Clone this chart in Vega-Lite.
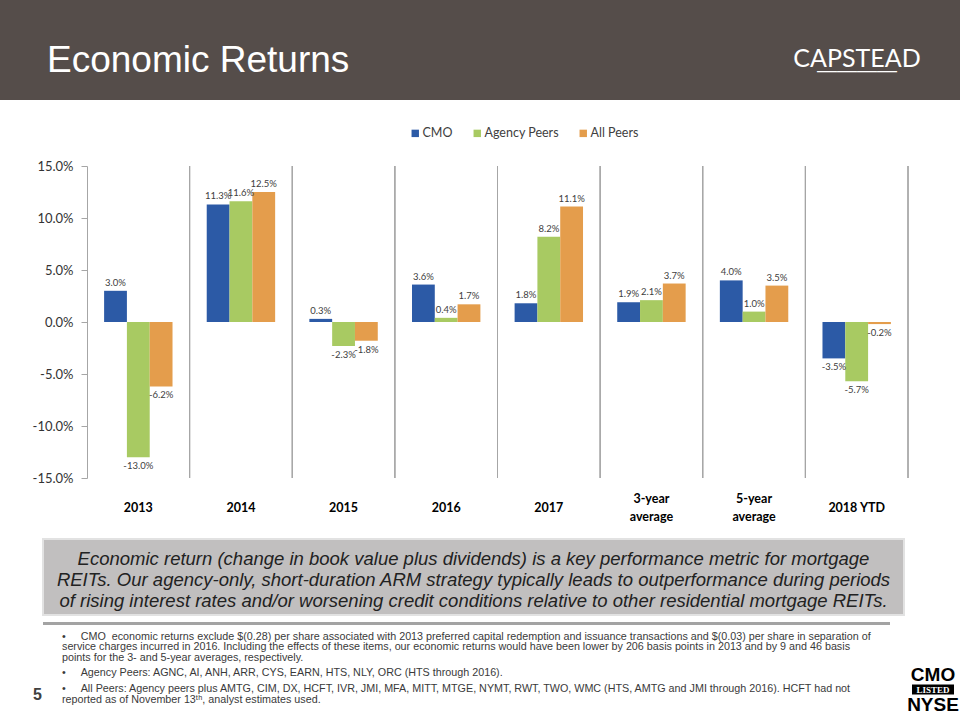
{
  "$schema": "https://vega.github.io/schema/vega-lite/v6.json",
  "padding": 0,
  "background": "white",
  "spacing": 27,
  "align": "none",
  "resolve": {"scale": {"color": "independent"}, "legend": {"color": "independent"}},
  "config": {
    "view": {"stroke": null},
    "locale": {"number": {"decimal": ".", "thousands": ",", "grouping": [3], "currency": ["$", ""], "minus": "-"}},
    "title": {"font": "Liberation Sans"}
  },
  "vconcat": [
    {
      "spacing": 0,
      "hconcat": [
        {
          "width": 700, "height": 100,
          "data": {"values": [{}]},
          "mark": {"type": "rect", "color": "#554D4A"},
          "encoding": {},
          "title": {"text": "Economic Returns", "anchor": "start", "frame": "group", "orient": "top", "offset": -80, "dx": 47, "fontSize": 37, "font": "Liberation Sans", "fontWeight": "normal", "color": "#FFFFFF", "baseline": "top"}
        },
        {
          "width": 260, "height": 100,
          "data": {"values": [{}]},
          "mark": {"type": "rect", "color": "#554D4A"},
          "encoding": {},
          "title": {"text": "CAPSTEAD", "subtitle": "————", "anchor": "middle", "frame": "group", "orient": "top", "offset": -81, "dx": 27, "fontSize": 25, "font": "Lato", "fontWeight": "normal", "color": "#FFFFFF", "baseline": "top", "subtitleFont": "Liberation Sans", "subtitleFontSize": 20, "subtitleColor": "#FFFFFF", "subtitlePadding": -11}
        }
      ]
    },
    {
      "spacing": 15,
      "align": "none",
      "resolve": {"scale": {"color": "independent"}, "legend": {"color": "independent"}},
      "vconcat": [
        {
          "spacing": 0,
          "resolve": {"scale": {"color": "independent"}, "legend": {"color": "independent"}},
          "hconcat": [
            {"width": 1, "height": 1, "data": {"values": [{}]}, "mark": {"type": "rect", "opacity": 0}, "encoding": {}},
            {
              "width": 821, "height": 312,
              "data": {"values": [
                {"period": "2013", "series": "CMO", "value": 0.030},
                {"period": "2013", "series": "Agency Peers", "value": -0.130},
                {"period": "2013", "series": "All Peers", "value": -0.062},
                {"period": "2014", "series": "CMO", "value": 0.113},
                {"period": "2014", "series": "Agency Peers", "value": 0.116},
                {"period": "2014", "series": "All Peers", "value": 0.125},
                {"period": "2015", "series": "CMO", "value": 0.003},
                {"period": "2015", "series": "Agency Peers", "value": -0.023},
                {"period": "2015", "series": "All Peers", "value": -0.018},
                {"period": "2016", "series": "CMO", "value": 0.036},
                {"period": "2016", "series": "Agency Peers", "value": 0.004},
                {"period": "2016", "series": "All Peers", "value": 0.017},
                {"period": "2017", "series": "CMO", "value": 0.018},
                {"period": "2017", "series": "Agency Peers", "value": 0.082},
                {"period": "2017", "series": "All Peers", "value": 0.111},
                {"period": "3-year average", "series": "CMO", "value": 0.019},
                {"period": "3-year average", "series": "Agency Peers", "value": 0.021},
                {"period": "3-year average", "series": "All Peers", "value": 0.037},
                {"period": "5-year average", "series": "CMO", "value": 0.040},
                {"period": "5-year average", "series": "Agency Peers", "value": 0.010},
                {"period": "5-year average", "series": "All Peers", "value": 0.035},
                {"period": "2018 YTD", "series": "CMO", "value": -0.035},
                {"period": "2018 YTD", "series": "Agency Peers", "value": -0.057},
                {"period": "2018 YTD", "series": "All Peers", "value": -0.002}
              ]},
              "encoding": {
                "x": {
                  "field": "period", "type": "nominal",
                  "sort": ["2013", "2014", "2015", "2016", "2017", "3-year average", "5-year average", "2018 YTD"],
                  "scale": {"paddingInner": 0, "paddingOuter": 0},
                  "axis": {"title": null, "orient": "bottom", "domain": false, "ticks": false, "tickSize": 0, "grid": false, "labelAngle": 0, "labelPadding": {"condition": {"test": "indexof(datum.label, 'average') > 0", "value": 20}, "value": 29}, "labelBaseline": "middle", "labelLineHeight": 18, "labelDx": 10, "labelFont": "Lato", "labelFontSize": 12.5, "labelFontWeight": "bold", "labelColor": "#000000", "labelExpr": "indexof(datum.label, 'average') > 0 ? split(datum.label, ' ') : datum.label"}
                }
              },
              "layer": [
                {
                  "mark": {"type": "rule", "color": "#A6A6A6", "strokeWidth": 1},
                  "encoding": {
                    "x": {"field": "period", "type": "nominal", "bandPosition": 1, "sort": ["2013", "2014", "2015", "2016", "2017", "3-year average", "5-year average", "2018 YTD"]}
                  }
                },
                {
                  "mark": {"type": "bar"},
                  "encoding": {
                    "xOffset": {"field": "series", "type": "nominal", "sort": ["CMO", "Agency Peers", "All Peers"], "scale": {"paddingInner": 0, "paddingOuter": 0.75}},
                    "y": {
                      "field": "value", "type": "quantitative",
                      "scale": {"domain": [-0.15, 0.15], "nice": false, "zero": false},
                      "axis": {"title": null, "values": [-0.15, -0.10, -0.05, 0, 0.05, 0.10, 0.15], "format": ".1%", "grid": false, "domain": true, "domainColor": "#A6A6A6", "ticks": true, "tickColor": "#A6A6A6", "tickSize": 6, "labelPadding": 8, "labelFont": "Lato", "labelFontSize": 13, "labelColor": "#333333", "minExtent": 86, "maxExtent": 200}
                    },
                    "color": {
                      "field": "series", "type": "nominal",
                      "scale": {"domain": ["CMO", "Agency Peers", "All Peers"], "range": ["#2C5AA6", "#A8CA62", "#E49D4C"]},
                      "legend": {"orient": "none", "legendX": 322, "legendY": -39, "direction": "horizontal", "title": null, "symbolType": "square", "symbolSize": 55, "symbolStrokeWidth": 0, "labelFont": "Lato", "labelFontSize": 12.5, "labelColor": "#404040", "columnPadding": 18, "labelOffset": 1}
                    }
                  }
                },
                {
                  "transform": [{"filter": "datum.value >= 0"}],
                  "mark": {"type": "text", "baseline": "bottom", "dy": -3, "font": "Lato", "fontSize": 9.5, "color": "#404040"},
                  "encoding": {
                    "xOffset": {"field": "series", "type": "nominal", "sort": ["CMO", "Agency Peers", "All Peers"], "scale": {"paddingInner": 0, "paddingOuter": 0.75}},
                    "y": {"field": "value", "type": "quantitative"},
                    "text": {"field": "value", "type": "quantitative", "format": ".1%"}
                  }
                },
                {
                  "transform": [{"filter": "datum.value < 0"}],
                  "mark": {"type": "text", "baseline": "top", "dy": 4, "font": "Lato", "fontSize": 9.5, "color": "#404040"},
                  "encoding": {
                    "xOffset": {"field": "series", "type": "nominal", "sort": ["CMO", "Agency Peers", "All Peers"], "scale": {"paddingInner": 0, "paddingOuter": 0.75}},
                    "y": {"field": "value", "type": "quantitative"},
                    "text": {"field": "value", "type": "quantitative", "format": ".1%"}
                  }
                },
                {
                  "mark": {"type": "rule", "color": "#A6A6A6", "strokeWidth": 1},
                  "encoding": {"y": {"datum": 0}}
                }
              ]
            }
          ]
        },
        {
          "spacing": 6,
          "align": "none",
          "vconcat": [
            {
              "spacing": 0,
              "hconcat": [
                {"width": 42, "height": 76, "data": {"values": [{}]}, "mark": {"type": "rect", "opacity": 0}, "encoding": {}},
                {
                  "width": 861, "height": 76,
                  "data": {"values": [{"note": "Economic return (change in book value plus dividends) is a key performance metric for mortgage\nREITs. Our agency-only, short-duration ARM strategy typically leads to outperformance during periods\nof rising interest rates and/or worsening credit conditions relative to other residential mortgage REITs."}]},
                  "layer": [
                    {"mark": {"type": "rect", "fill": "#C1BFBF", "stroke": "#E2E2E2", "strokeWidth": 2}, "encoding": {}},
                    {"mark": {"type": "text", "lineBreak": "\n", "font": "Liberation Sans", "fontSize": 18.5, "fontStyle": "italic", "color": "#222222", "lineHeight": 21, "baseline": "middle", "align": "center", "dy": -18}, "encoding": {"text": {"field": "note"}}}
                  ]
                }
              ]
            },
            {
              "spacing": 5.5,
              "align": "none",
              "vconcat": [
                {
                  "spacing": 0,
                  "hconcat": [
                    {"width": 43, "height": 3, "data": {"values": [{}]}, "mark": {"type": "rect", "opacity": 0}, "encoding": {}},
                    {"width": 847, "height": 3, "data": {"values": [{}]}, "mark": {"type": "rect", "color": "#A3A3A3"}, "encoding": {}}
                  ]
                },
                {
                  "spacing": 0,
                  "hconcat": [
                    {
                      "width": 62, "height": 50,
                      "data": {"values": [{}]}, "mark": {"type": "rect", "opacity": 0}, "encoding": {},
                      "title": {"text": "5", "orient": "top", "anchor": "start", "frame": "group", "dx": 33, "offset": -39.5, "fontSize": 16, "fontWeight": "bold", "font": "Liberation Sans", "color": "#404040", "baseline": "top"}
                    },
                    {
                      "spacing": 2.5,
                      "align": "none",
                      "vconcat": [
                        {
                          "width": 845, "height": 1,
                          "data": {"values": [{}]}, "mark": {"type": "rect", "opacity": 0}, "encoding": {},
                          "title": {"text": ["•\u00a0\u00a0\u00a0\u00a0\u00a0CMO\u00a0 economic returns exclude $(0.28) per share associated with 2013 preferred capital redemption and issuance transactions and $(0.03) per share in separation of", "\u00a0\u00a0\u00a0\u00a0\u00a0\u00a0\u00a0service charges incurred in 2016. Including the effects of these items, our economic returns would have been lower by 206 basis points in 2013 and by 9 and 46 basis", "\u00a0\u00a0\u00a0\u00a0\u00a0\u00a0\u00a0points for the 3- and 5-year averages, respectively."], "orient": "top", "anchor": "start", "frame": "group", "offset": 0, "fontSize": 10.75, "lineHeight": 10.4, "fontWeight": "normal", "font": "Liberation Sans", "color": "#3A3A3A", "baseline": "top"}
                        },
                        {
                          "width": 845, "height": 1,
                          "data": {"values": [{}]}, "mark": {"type": "rect", "opacity": 0}, "encoding": {},
                          "title": {"text": "•\u00a0\u00a0\u00a0\u00a0\u00a0Agency Peers: AGNC, AI, ANH, ARR, CYS, EARN, HTS, NLY, ORC (HTS through 2016).", "orient": "top", "anchor": "start", "frame": "group", "offset": 0, "fontSize": 10.75, "lineHeight": 10.4, "fontWeight": "normal", "font": "Liberation Sans", "color": "#3A3A3A", "baseline": "top"}
                        },
                        {
                          "width": 845, "height": 1,
                          "data": {"values": [{}]}, "mark": {"type": "rect", "opacity": 0}, "encoding": {},
                          "title": {"text": ["•\u00a0\u00a0\u00a0\u00a0\u00a0All Peers: Agency peers plus AMTG, CIM, DX, HCFT, IVR, JMI, MFA, MITT, MTGE, NYMT, RWT, TWO, WMC (HTS, AMTG and JMI through 2016). HCFT had not", "\u00a0\u00a0\u00a0\u00a0\u00a0\u00a0\u00a0reported as of November 13ᵗʰ, analyst estimates used."], "orient": "top", "anchor": "start", "frame": "group", "offset": 0, "fontSize": 10.75, "lineHeight": 10.4, "fontWeight": "normal", "font": "Liberation Sans", "color": "#3A3A3A", "baseline": "top"}
                        }
                      ]
                    },
                    {
                      "spacing": 1,
                      "align": "none",
                      "vconcat": [
                        {"width": 42, "height": 1, "data": {"values": [{}]}, "mark": {"type": "rect", "opacity": 0}, "encoding": {}},
                        {
                          "width": 42, "height": 10,
                          "data": {"values": [{"tag": "LISTED"}]},
                          "title": {"text": "CMO", "orient": "top", "anchor": "middle", "frame": "group", "offset": 0, "fontSize": 19, "fontWeight": "bold", "font": "Liberation Sans", "color": "#000000", "baseline": "top"},
                          "layer": [
                            {"mark": {"type": "rect", "color": "#000000"}, "encoding": {}},
                            {"mark": {"type": "text", "font": "Liberation Serif", "fontWeight": "bold", "fontSize": 9, "color": "#FFFFFF", "baseline": "middle", "align": "center"}, "encoding": {"text": {"field": "tag"}}}
                          ]
                        },
                        {
                          "width": 42, "height": 1,
                          "data": {"values": [{}]}, "mark": {"type": "rect", "opacity": 0}, "encoding": {},
                          "title": {"text": "NYSE", "orient": "top", "anchor": "middle", "frame": "group", "offset": 0, "fontSize": 19, "fontWeight": "bold", "font": "Liberation Sans", "color": "#000000", "baseline": "top"}
                        }
                      ]
                    }
                  ]
                }
              ]
            }
          ]
        }
      ]
    }
  ]
}
